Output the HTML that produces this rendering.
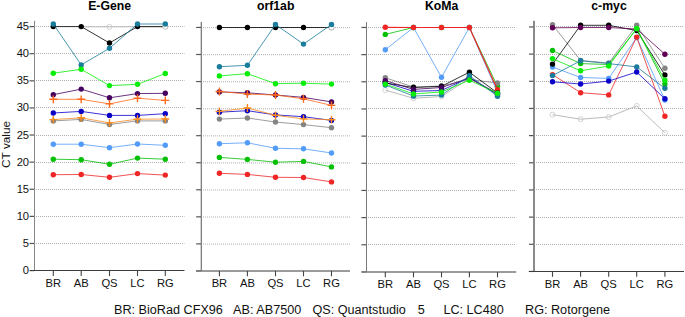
<!DOCTYPE html><html><head><meta charset="utf-8"><style>html,body{margin:0;padding:0;background:#fff;width:685px;height:317px;overflow:hidden}svg{display:block}text{font-family:"Liberation Sans",sans-serif}</style></head><body>
<svg width="685" height="317" viewBox="0 0 685 317">
<rect width="685" height="317" fill="#fff"/>
<line x1="36" y1="243.5" x2="184.5" y2="243.5" stroke="#b0b0b0" stroke-width="1" stroke-dasharray="1 1"/>
<line x1="36" y1="216.5" x2="184.5" y2="216.5" stroke="#b0b0b0" stroke-width="1" stroke-dasharray="1 1"/>
<line x1="36" y1="189.5" x2="184.5" y2="189.5" stroke="#b0b0b0" stroke-width="1" stroke-dasharray="1 1"/>
<line x1="36" y1="162.5" x2="184.5" y2="162.5" stroke="#b0b0b0" stroke-width="1" stroke-dasharray="1 1"/>
<line x1="36" y1="135.5" x2="184.5" y2="135.5" stroke="#b0b0b0" stroke-width="1" stroke-dasharray="1 1"/>
<line x1="36" y1="107.5" x2="184.5" y2="107.5" stroke="#b0b0b0" stroke-width="1" stroke-dasharray="1 1"/>
<line x1="36" y1="80.5" x2="184.5" y2="80.5" stroke="#b0b0b0" stroke-width="1" stroke-dasharray="1 1"/>
<line x1="36" y1="53.5" x2="184.5" y2="53.5" stroke="#b0b0b0" stroke-width="1" stroke-dasharray="1 1"/>
<line x1="36" y1="26.5" x2="184.5" y2="26.5" stroke="#b0b0b0" stroke-width="1" stroke-dasharray="1 1"/>
<line x1="29.5" y1="270.60" x2="34.5" y2="270.60" stroke="#555" stroke-width="1.2"/>
<line x1="29.5" y1="243.49" x2="34.5" y2="243.49" stroke="#555" stroke-width="1.2"/>
<line x1="29.5" y1="216.38" x2="34.5" y2="216.38" stroke="#555" stroke-width="1.2"/>
<line x1="29.5" y1="189.27" x2="34.5" y2="189.27" stroke="#555" stroke-width="1.2"/>
<line x1="29.5" y1="162.16" x2="34.5" y2="162.16" stroke="#555" stroke-width="1.2"/>
<line x1="29.5" y1="135.04" x2="34.5" y2="135.04" stroke="#555" stroke-width="1.2"/>
<line x1="29.5" y1="107.93" x2="34.5" y2="107.93" stroke="#555" stroke-width="1.2"/>
<line x1="29.5" y1="80.82" x2="34.5" y2="80.82" stroke="#555" stroke-width="1.2"/>
<line x1="29.5" y1="53.71" x2="34.5" y2="53.71" stroke="#555" stroke-width="1.2"/>
<line x1="29.5" y1="26.60" x2="34.5" y2="26.60" stroke="#555" stroke-width="1.2"/>
<line x1="34.5" y1="20.8" x2="34.5" y2="270.6" stroke="#858585" stroke-width="1.0"/>
<line x1="30.0" y1="270.5" x2="184.5" y2="270.5" stroke="#3c3c3c" stroke-width="1.0"/>
<line x1="53.3" y1="270.6" x2="53.3" y2="276.0" stroke="#444" stroke-width="1.1"/>
<line x1="81.2" y1="270.6" x2="81.2" y2="276.0" stroke="#444" stroke-width="1.1"/>
<line x1="109.5" y1="270.6" x2="109.5" y2="276.0" stroke="#444" stroke-width="1.1"/>
<line x1="137.5" y1="270.6" x2="137.5" y2="276.0" stroke="#444" stroke-width="1.1"/>
<line x1="165.3" y1="270.6" x2="165.3" y2="276.0" stroke="#444" stroke-width="1.1"/>
<text x="53.3" y="286.9" font-size="11.2" text-anchor="middle" fill="#111">BR</text>
<text x="81.2" y="286.9" font-size="11.2" text-anchor="middle" fill="#111">AB</text>
<text x="109.5" y="286.9" font-size="11.2" text-anchor="middle" fill="#111">QS</text>
<text x="137.5" y="286.9" font-size="11.2" text-anchor="middle" fill="#111">LC</text>
<text x="165.3" y="286.9" font-size="11.2" text-anchor="middle" fill="#111">RG</text>
<text x="109.6" y="10.2" font-size="12.25" font-weight="bold" text-anchor="middle" fill="#000">E-Gene</text>
<polyline points="81.2,26.8 109.5,26.8 137.5,26.8 165.3,26.8" fill="none" stroke="#bbb" stroke-width="1"/>
<polyline points="53.3,26.6 81.2,26.6 109.5,43.0 137.5,26.6 165.3,26.6" fill="none" stroke="#000000" stroke-width="1.0" stroke-opacity="0.8"/>
<circle cx="53.3" cy="26.6" r="2.7" fill="#000000"/>
<circle cx="81.2" cy="26.6" r="2.7" fill="#000000"/>
<circle cx="109.5" cy="43.0" r="2.7" fill="#000000"/>
<circle cx="137.5" cy="26.6" r="2.7" fill="#000000"/>
<circle cx="165.3" cy="26.6" r="2.7" fill="#000000"/>
<circle cx="109.5" cy="26.8" r="2.5" fill="none" stroke="#c8c8c8" stroke-width="0.8"/>
<circle cx="165.3" cy="26.8" r="2.5" fill="#fff" stroke="#c8c8c8" stroke-width="0.8"/>
<polyline points="53.3,24.0 81.2,64.9 109.5,48.3 137.5,24.0 165.3,24.0" fill="none" stroke="#1a7d9b" stroke-width="1.0" stroke-opacity="0.8"/>
<circle cx="53.3" cy="24.0" r="2.7" fill="#1a7d9b"/>
<circle cx="81.2" cy="64.9" r="2.7" fill="#1a7d9b"/>
<circle cx="109.5" cy="48.3" r="2.7" fill="#1a7d9b"/>
<circle cx="137.5" cy="24.0" r="2.7" fill="#1a7d9b"/>
<circle cx="165.3" cy="24.0" r="2.7" fill="#1a7d9b"/>
<polyline points="53.3,73.2 81.2,69.3 109.5,85.6 137.5,84.3 165.3,73.5" fill="none" stroke="#08ee08" stroke-width="1.0" stroke-opacity="0.8"/>
<circle cx="53.3" cy="73.2" r="2.7" fill="#08ee08"/>
<circle cx="81.2" cy="69.3" r="2.7" fill="#08ee08"/>
<circle cx="109.5" cy="85.6" r="2.7" fill="#08ee08"/>
<circle cx="137.5" cy="84.3" r="2.7" fill="#08ee08"/>
<circle cx="165.3" cy="73.5" r="2.7" fill="#08ee08"/>
<polyline points="53.3,94.7 81.2,89.1 109.5,97.8 137.5,93.6 165.3,93.3" fill="none" stroke="#46005f" stroke-width="1.0" stroke-opacity="0.8"/>
<circle cx="53.3" cy="94.7" r="2.7" fill="#46005f"/>
<circle cx="81.2" cy="89.1" r="2.7" fill="#46005f"/>
<circle cx="109.5" cy="97.8" r="2.7" fill="#46005f"/>
<circle cx="137.5" cy="93.6" r="2.7" fill="#46005f"/>
<circle cx="165.3" cy="93.3" r="2.7" fill="#46005f"/>
<polyline points="53.3,99.3 81.2,99.3 109.5,103.9 137.5,98.2 165.3,100.4" fill="none" stroke="#ff6a1a" stroke-width="1.0" stroke-opacity="0.8"/>
<path d="M49.4,99.3H57.2M53.3,95.4V103.2" stroke="#ff6a1a" stroke-width="1.4"/>
<path d="M77.3,99.3H85.1M81.2,95.4V103.2" stroke="#ff6a1a" stroke-width="1.4"/>
<path d="M105.6,103.9H113.4M109.5,100.0V107.8" stroke="#ff6a1a" stroke-width="1.4"/>
<path d="M133.6,98.2H141.4M137.5,94.3V102.1" stroke="#ff6a1a" stroke-width="1.4"/>
<path d="M161.4,100.4H169.2M165.3,96.5V104.3" stroke="#ff6a1a" stroke-width="1.4"/>
<polyline points="53.3,113.0 81.2,111.4 109.5,115.4 137.5,115.4 165.3,113.7" fill="none" stroke="#0a00c8" stroke-width="1.0" stroke-opacity="0.8"/>
<circle cx="53.3" cy="113.0" r="2.7" fill="#0a00c8"/>
<circle cx="81.2" cy="111.4" r="2.7" fill="#0a00c8"/>
<circle cx="109.5" cy="115.4" r="2.7" fill="#0a00c8"/>
<circle cx="137.5" cy="115.4" r="2.7" fill="#0a00c8"/>
<circle cx="165.3" cy="113.7" r="2.7" fill="#0a00c8"/>
<polyline points="53.3,120.9 81.2,119.4 109.5,124.5 137.5,120.9 165.3,120.9" fill="none" stroke="#848484" stroke-width="1.0" stroke-opacity="0.8"/>
<circle cx="53.3" cy="120.9" r="2.7" fill="#848484"/>
<circle cx="81.2" cy="119.4" r="2.7" fill="#848484"/>
<circle cx="109.5" cy="124.5" r="2.7" fill="#848484"/>
<circle cx="137.5" cy="120.9" r="2.7" fill="#848484"/>
<circle cx="165.3" cy="120.9" r="2.7" fill="#848484"/>
<polyline points="53.3,119.6 81.2,117.8 109.5,122.9 137.5,119.2 165.3,119.0" fill="none" stroke="#fa8c1e" stroke-width="1.0" stroke-opacity="0.8"/>
<path d="M49.4,119.6H57.2M53.3,115.7V123.5" stroke="#fa8c1e" stroke-width="1.4"/>
<path d="M77.3,117.8H85.1M81.2,113.9V121.7" stroke="#fa8c1e" stroke-width="1.4"/>
<path d="M105.6,122.9H113.4M109.5,119.0V126.8" stroke="#fa8c1e" stroke-width="1.4"/>
<path d="M133.6,119.2H141.4M137.5,115.3V123.1" stroke="#fa8c1e" stroke-width="1.4"/>
<path d="M161.4,119.0H169.2M165.3,115.1V122.9" stroke="#fa8c1e" stroke-width="1.4"/>
<polyline points="53.3,144.2 81.2,144.2 109.5,147.7 137.5,144.0 165.3,145.3" fill="none" stroke="#529cf8" stroke-width="1.0" stroke-opacity="0.8"/>
<circle cx="53.3" cy="144.2" r="2.7" fill="#529cf8"/>
<circle cx="81.2" cy="144.2" r="2.7" fill="#529cf8"/>
<circle cx="109.5" cy="147.7" r="2.7" fill="#529cf8"/>
<circle cx="137.5" cy="144.0" r="2.7" fill="#529cf8"/>
<circle cx="165.3" cy="145.3" r="2.7" fill="#529cf8"/>
<polyline points="53.3,159.2 81.2,159.7 109.5,164.3 137.5,158.1 165.3,159.2" fill="none" stroke="#06c006" stroke-width="1.0" stroke-opacity="0.8"/>
<circle cx="53.3" cy="159.2" r="2.7" fill="#06c006"/>
<circle cx="81.2" cy="159.7" r="2.7" fill="#06c006"/>
<circle cx="109.5" cy="164.3" r="2.7" fill="#06c006"/>
<circle cx="137.5" cy="158.1" r="2.7" fill="#06c006"/>
<circle cx="165.3" cy="159.2" r="2.7" fill="#06c006"/>
<polyline points="53.3,174.7 81.2,174.5 109.5,177.3 137.5,173.6 165.3,175.1" fill="none" stroke="#f02626" stroke-width="1.0" stroke-opacity="0.8"/>
<circle cx="53.3" cy="174.7" r="2.7" fill="#f02626"/>
<circle cx="81.2" cy="174.5" r="2.7" fill="#f02626"/>
<circle cx="109.5" cy="177.3" r="2.7" fill="#f02626"/>
<circle cx="137.5" cy="173.6" r="2.7" fill="#f02626"/>
<circle cx="165.3" cy="175.1" r="2.7" fill="#f02626"/>
<line x1="203" y1="244.09" x2="350.0" y2="244.09" stroke="#b0b0b0" stroke-width="1" stroke-dasharray="1 1"/>
<line x1="203" y1="217.03" x2="350.0" y2="217.03" stroke="#b0b0b0" stroke-width="1" stroke-dasharray="1 1"/>
<line x1="203" y1="189.98" x2="350.0" y2="189.98" stroke="#b0b0b0" stroke-width="1" stroke-dasharray="1 1"/>
<line x1="203" y1="162.92" x2="350.0" y2="162.92" stroke="#b0b0b0" stroke-width="1" stroke-dasharray="1 1"/>
<line x1="203" y1="135.87" x2="350.0" y2="135.87" stroke="#b0b0b0" stroke-width="1" stroke-dasharray="1 1"/>
<line x1="203" y1="108.81" x2="350.0" y2="108.81" stroke="#b0b0b0" stroke-width="1" stroke-dasharray="1 1"/>
<line x1="203" y1="81.76" x2="350.0" y2="81.76" stroke="#b0b0b0" stroke-width="1" stroke-dasharray="1 1"/>
<line x1="203" y1="54.7" x2="350.0" y2="54.7" stroke="#b0b0b0" stroke-width="1" stroke-dasharray="1 1"/>
<line x1="203" y1="27.65" x2="350.0" y2="27.65" stroke="#b0b0b0" stroke-width="1" stroke-dasharray="1 1"/>
<line x1="196.2" y1="270.94" x2="201.2" y2="270.94" stroke="#555" stroke-width="1.2"/>
<line x1="196.2" y1="243.89" x2="201.2" y2="243.89" stroke="#555" stroke-width="1.2"/>
<line x1="196.2" y1="216.83" x2="201.2" y2="216.83" stroke="#555" stroke-width="1.2"/>
<line x1="196.2" y1="189.78" x2="201.2" y2="189.78" stroke="#555" stroke-width="1.2"/>
<line x1="196.2" y1="162.72" x2="201.2" y2="162.72" stroke="#555" stroke-width="1.2"/>
<line x1="196.2" y1="135.67" x2="201.2" y2="135.67" stroke="#555" stroke-width="1.2"/>
<line x1="196.2" y1="108.61" x2="201.2" y2="108.61" stroke="#555" stroke-width="1.2"/>
<line x1="196.2" y1="81.56" x2="201.2" y2="81.56" stroke="#555" stroke-width="1.2"/>
<line x1="196.2" y1="54.50" x2="201.2" y2="54.50" stroke="#555" stroke-width="1.2"/>
<line x1="196.2" y1="27.45" x2="201.2" y2="27.45" stroke="#555" stroke-width="1.2"/>
<line x1="201.3" y1="22.1" x2="201.3" y2="270.9" stroke="#707070" stroke-width="1.2"/>
<line x1="196.0" y1="271.0" x2="350.0" y2="271.0" stroke="#7a7a7a" stroke-width="1.6"/>
<line x1="219.4" y1="270.9" x2="219.4" y2="276.3" stroke="#444" stroke-width="1.1"/>
<line x1="247.4" y1="270.9" x2="247.4" y2="276.3" stroke="#444" stroke-width="1.1"/>
<line x1="275.5" y1="270.9" x2="275.5" y2="276.3" stroke="#444" stroke-width="1.1"/>
<line x1="303.5" y1="270.9" x2="303.5" y2="276.3" stroke="#444" stroke-width="1.1"/>
<line x1="331.5" y1="270.9" x2="331.5" y2="276.3" stroke="#444" stroke-width="1.1"/>
<text x="219.4" y="287.2" font-size="11.2" text-anchor="middle" fill="#111">BR</text>
<text x="247.4" y="287.2" font-size="11.2" text-anchor="middle" fill="#111">AB</text>
<text x="275.5" y="287.2" font-size="11.2" text-anchor="middle" fill="#111">QS</text>
<text x="303.5" y="287.2" font-size="11.2" text-anchor="middle" fill="#111">LC</text>
<text x="331.5" y="287.2" font-size="11.2" text-anchor="middle" fill="#111">RG</text>
<text x="275.7" y="10.2" font-size="12.25" font-weight="bold" text-anchor="middle" fill="#000">orf1ab</text>
<polyline points="219.4,27.5 247.4,27.5 275.5,27.5 303.5,27.5 331.5,27.5" fill="none" stroke="#000000" stroke-width="1.0" stroke-opacity="0.8"/>
<circle cx="219.4" cy="27.5" r="2.7" fill="#000000"/>
<circle cx="247.4" cy="27.5" r="2.7" fill="#000000"/>
<circle cx="275.5" cy="27.5" r="2.7" fill="#000000"/>
<circle cx="303.5" cy="27.5" r="2.7" fill="#000000"/>
<circle cx="331.5" cy="27.5" r="2.7" fill="#000000"/>
<circle cx="331.5" cy="27.4" r="2.5" fill="#fff" stroke="#c8c8c8" stroke-width="0.8"/>
<polyline points="219.4,66.7 247.4,65.3 275.5,24.5 303.5,44.1 331.5,24.5" fill="none" stroke="#1a7d9b" stroke-width="1.0" stroke-opacity="0.8"/>
<circle cx="219.4" cy="66.7" r="2.7" fill="#1a7d9b"/>
<circle cx="247.4" cy="65.3" r="2.7" fill="#1a7d9b"/>
<circle cx="275.5" cy="24.5" r="2.7" fill="#1a7d9b"/>
<circle cx="303.5" cy="44.1" r="2.7" fill="#1a7d9b"/>
<circle cx="331.5" cy="24.5" r="2.7" fill="#1a7d9b"/>
<polyline points="219.4,75.9 247.4,73.7 275.5,83.7 303.5,83.2 331.5,84.1" fill="none" stroke="#08ee08" stroke-width="1.0" stroke-opacity="0.8"/>
<circle cx="219.4" cy="75.9" r="2.7" fill="#08ee08"/>
<circle cx="247.4" cy="73.7" r="2.7" fill="#08ee08"/>
<circle cx="275.5" cy="83.7" r="2.7" fill="#08ee08"/>
<circle cx="303.5" cy="83.2" r="2.7" fill="#08ee08"/>
<circle cx="331.5" cy="84.1" r="2.7" fill="#08ee08"/>
<polyline points="219.4,91.9 247.4,92.8 275.5,95.0 303.5,97.4 331.5,101.9" fill="none" stroke="#46005f" stroke-width="1.0" stroke-opacity="0.8"/>
<circle cx="219.4" cy="91.9" r="2.7" fill="#46005f"/>
<circle cx="247.4" cy="92.8" r="2.7" fill="#46005f"/>
<circle cx="275.5" cy="95.0" r="2.7" fill="#46005f"/>
<circle cx="303.5" cy="97.4" r="2.7" fill="#46005f"/>
<circle cx="331.5" cy="101.9" r="2.7" fill="#46005f"/>
<polyline points="219.4,91.5 247.4,94.1 275.5,95.0 303.5,98.8 331.5,105.4" fill="none" stroke="#ff6a1a" stroke-width="1.0" stroke-opacity="0.8"/>
<path d="M215.5,91.5H223.3M219.4,87.6V95.4" stroke="#ff6a1a" stroke-width="1.4"/>
<path d="M243.5,94.1H251.3M247.4,90.2V98.0" stroke="#ff6a1a" stroke-width="1.4"/>
<path d="M271.6,95.0H279.4M275.5,91.1V98.9" stroke="#ff6a1a" stroke-width="1.4"/>
<path d="M299.6,98.8H307.4M303.5,94.9V102.7" stroke="#ff6a1a" stroke-width="1.4"/>
<path d="M327.6,105.4H335.4M331.5,101.5V109.3" stroke="#ff6a1a" stroke-width="1.4"/>
<polyline points="219.4,119.1 247.4,118.0 275.5,122.0 303.5,124.6 331.5,127.7" fill="none" stroke="#848484" stroke-width="1.0" stroke-opacity="0.8"/>
<circle cx="219.4" cy="119.1" r="2.7" fill="#848484"/>
<circle cx="247.4" cy="118.0" r="2.7" fill="#848484"/>
<circle cx="275.5" cy="122.0" r="2.7" fill="#848484"/>
<circle cx="303.5" cy="124.6" r="2.7" fill="#848484"/>
<circle cx="331.5" cy="127.7" r="2.7" fill="#848484"/>
<polyline points="219.4,112.2 247.4,110.7 275.5,114.9 303.5,116.7 331.5,120.4" fill="none" stroke="#0a00c8" stroke-width="1.0" stroke-opacity="0.8"/>
<circle cx="219.4" cy="112.2" r="2.7" fill="#0a00c8"/>
<circle cx="247.4" cy="110.7" r="2.7" fill="#0a00c8"/>
<circle cx="275.5" cy="114.9" r="2.7" fill="#0a00c8"/>
<circle cx="303.5" cy="116.7" r="2.7" fill="#0a00c8"/>
<circle cx="331.5" cy="120.4" r="2.7" fill="#0a00c8"/>
<polyline points="219.4,111.4 247.4,108.0 275.5,115.3 303.5,118.9 331.5,119.7" fill="none" stroke="#fa8c1e" stroke-width="1.0" stroke-opacity="0.8"/>
<path d="M215.5,111.4H223.3M219.4,107.5V115.3" stroke="#fa8c1e" stroke-width="1.4"/>
<path d="M243.5,108.0H251.3M247.4,104.1V111.9" stroke="#fa8c1e" stroke-width="1.4"/>
<path d="M271.6,115.3H279.4M275.5,111.4V119.2" stroke="#fa8c1e" stroke-width="1.4"/>
<path d="M299.6,118.9H307.4M303.5,115.0V122.8" stroke="#fa8c1e" stroke-width="1.4"/>
<path d="M327.6,119.7H335.4M331.5,115.8V123.6" stroke="#fa8c1e" stroke-width="1.4"/>
<polyline points="219.4,143.7 247.4,142.8 275.5,148.3 303.5,148.8 331.5,153.0" fill="none" stroke="#529cf8" stroke-width="1.0" stroke-opacity="0.8"/>
<circle cx="219.4" cy="143.7" r="2.7" fill="#529cf8"/>
<circle cx="247.4" cy="142.8" r="2.7" fill="#529cf8"/>
<circle cx="275.5" cy="148.3" r="2.7" fill="#529cf8"/>
<circle cx="303.5" cy="148.8" r="2.7" fill="#529cf8"/>
<circle cx="331.5" cy="153.0" r="2.7" fill="#529cf8"/>
<polyline points="219.4,157.4 247.4,159.4 275.5,162.2 303.5,161.4 331.5,166.9" fill="none" stroke="#06c006" stroke-width="1.0" stroke-opacity="0.8"/>
<circle cx="219.4" cy="157.4" r="2.7" fill="#06c006"/>
<circle cx="247.4" cy="159.4" r="2.7" fill="#06c006"/>
<circle cx="275.5" cy="162.2" r="2.7" fill="#06c006"/>
<circle cx="303.5" cy="161.4" r="2.7" fill="#06c006"/>
<circle cx="331.5" cy="166.9" r="2.7" fill="#06c006"/>
<polyline points="219.4,173.3 247.4,174.4 275.5,177.3 303.5,177.5 331.5,181.9" fill="none" stroke="#f02626" stroke-width="1.0" stroke-opacity="0.8"/>
<circle cx="219.4" cy="173.3" r="2.7" fill="#f02626"/>
<circle cx="247.4" cy="174.4" r="2.7" fill="#f02626"/>
<circle cx="275.5" cy="177.3" r="2.7" fill="#f02626"/>
<circle cx="303.5" cy="177.5" r="2.7" fill="#f02626"/>
<circle cx="331.5" cy="181.9" r="2.7" fill="#f02626"/>
<line x1="368" y1="244.5" x2="516.2" y2="244.5" stroke="#b0b0b0" stroke-width="1" stroke-dasharray="1 1"/>
<line x1="368" y1="217.5" x2="516.2" y2="217.5" stroke="#b0b0b0" stroke-width="1" stroke-dasharray="1 1"/>
<line x1="368" y1="190.5" x2="516.2" y2="190.5" stroke="#b0b0b0" stroke-width="1" stroke-dasharray="1 1"/>
<line x1="368" y1="163.5" x2="516.2" y2="163.5" stroke="#b0b0b0" stroke-width="1" stroke-dasharray="1 1"/>
<line x1="368" y1="136.5" x2="516.2" y2="136.5" stroke="#b0b0b0" stroke-width="1" stroke-dasharray="1 1"/>
<line x1="368" y1="108.5" x2="516.2" y2="108.5" stroke="#b0b0b0" stroke-width="1" stroke-dasharray="1 1"/>
<line x1="368" y1="81.5" x2="516.2" y2="81.5" stroke="#b0b0b0" stroke-width="1" stroke-dasharray="1 1"/>
<line x1="368" y1="54.5" x2="516.2" y2="54.5" stroke="#b0b0b0" stroke-width="1" stroke-dasharray="1 1"/>
<line x1="368" y1="27.5" x2="516.2" y2="27.5" stroke="#b0b0b0" stroke-width="1" stroke-dasharray="1 1"/>
<line x1="361.4" y1="271.95" x2="366.4" y2="271.95" stroke="#555" stroke-width="1.2"/>
<line x1="361.4" y1="244.78" x2="366.4" y2="244.78" stroke="#555" stroke-width="1.2"/>
<line x1="361.4" y1="217.62" x2="366.4" y2="217.62" stroke="#555" stroke-width="1.2"/>
<line x1="361.4" y1="190.45" x2="366.4" y2="190.45" stroke="#555" stroke-width="1.2"/>
<line x1="361.4" y1="163.28" x2="366.4" y2="163.28" stroke="#555" stroke-width="1.2"/>
<line x1="361.4" y1="136.12" x2="366.4" y2="136.12" stroke="#555" stroke-width="1.2"/>
<line x1="361.4" y1="108.95" x2="366.4" y2="108.95" stroke="#555" stroke-width="1.2"/>
<line x1="361.4" y1="81.78" x2="366.4" y2="81.78" stroke="#555" stroke-width="1.2"/>
<line x1="361.4" y1="54.62" x2="366.4" y2="54.62" stroke="#555" stroke-width="1.2"/>
<line x1="361.4" y1="27.45" x2="366.4" y2="27.45" stroke="#555" stroke-width="1.2"/>
<line x1="366.5" y1="22.1" x2="366.5" y2="271.9" stroke="#7a7a7a" stroke-width="1.0"/>
<line x1="361.8" y1="272.0" x2="516.2" y2="272.0" stroke="#7a7a7a" stroke-width="1.6"/>
<line x1="385.3" y1="271.9" x2="385.3" y2="277.3" stroke="#444" stroke-width="1.1"/>
<line x1="413.5" y1="271.9" x2="413.5" y2="277.3" stroke="#444" stroke-width="1.1"/>
<line x1="441.5" y1="271.9" x2="441.5" y2="277.3" stroke="#444" stroke-width="1.1"/>
<line x1="469.4" y1="271.9" x2="469.4" y2="277.3" stroke="#444" stroke-width="1.1"/>
<line x1="497.5" y1="271.9" x2="497.5" y2="277.3" stroke="#444" stroke-width="1.1"/>
<text x="385.3" y="288.2" font-size="11.2" text-anchor="middle" fill="#111">BR</text>
<text x="413.5" y="288.2" font-size="11.2" text-anchor="middle" fill="#111">AB</text>
<text x="441.5" y="288.2" font-size="11.2" text-anchor="middle" fill="#111">QS</text>
<text x="469.4" y="288.2" font-size="11.2" text-anchor="middle" fill="#111">LC</text>
<text x="497.5" y="288.2" font-size="11.2" text-anchor="middle" fill="#111">RG</text>
<text x="441.7" y="10.2" font-size="12.25" font-weight="bold" text-anchor="middle" fill="#000">KoMa</text>
<polyline points="385.3,90.1 413.5,98.3 441.5,96.5 469.4,78.5 497.5,94.5" fill="none" stroke="#aaa" stroke-width="0.8"/>
<circle cx="385.3" cy="90.1" r="2.5" fill="none" stroke="#c8c8c8" stroke-width="0.8"/>
<circle cx="413.5" cy="98.3" r="2.5" fill="none" stroke="#c8c8c8" stroke-width="0.8"/>
<circle cx="441.5" cy="96.5" r="2.5" fill="none" stroke="#c8c8c8" stroke-width="0.8"/>
<circle cx="469.4" cy="78.5" r="2.5" fill="none" stroke="#c8c8c8" stroke-width="0.8"/>
<circle cx="497.5" cy="94.5" r="2.5" fill="none" stroke="#c8c8c8" stroke-width="0.8"/>
<polyline points="385.3,34.4 413.5,27.5 441.5,27.5 469.4,27.5 497.5,86.3" fill="none" stroke="#06c006" stroke-width="1.0" stroke-opacity="0.8"/>
<circle cx="385.3" cy="34.4" r="2.7" fill="#06c006"/>
<circle cx="413.5" cy="27.5" r="2.7" fill="#06c006"/>
<circle cx="441.5" cy="27.5" r="2.7" fill="#06c006"/>
<circle cx="469.4" cy="27.5" r="2.7" fill="#06c006"/>
<circle cx="497.5" cy="86.3" r="2.7" fill="#06c006"/>
<polyline points="385.3,77.8 413.5,87.0 441.5,86.0 469.4,79.5 497.5,83.0" fill="none" stroke="#848484" stroke-width="1.0" stroke-opacity="0.8"/>
<circle cx="385.3" cy="77.8" r="2.7" fill="#848484"/>
<circle cx="413.5" cy="87.0" r="2.7" fill="#848484"/>
<circle cx="441.5" cy="86.0" r="2.7" fill="#848484"/>
<circle cx="469.4" cy="79.5" r="2.7" fill="#848484"/>
<circle cx="497.5" cy="83.0" r="2.7" fill="#848484"/>
<polyline points="385.3,49.7 413.5,27.5 441.5,77.3 469.4,27.5 497.5,92.5" fill="none" stroke="#529cf8" stroke-width="1.0" stroke-opacity="0.8"/>
<circle cx="385.3" cy="49.7" r="2.7" fill="#529cf8"/>
<circle cx="413.5" cy="27.5" r="2.7" fill="#529cf8"/>
<circle cx="441.5" cy="77.3" r="2.7" fill="#529cf8"/>
<circle cx="469.4" cy="27.5" r="2.7" fill="#529cf8"/>
<circle cx="497.5" cy="92.5" r="2.7" fill="#529cf8"/>
<polyline points="385.3,27.3 413.5,27.5 441.5,27.5 469.4,27.5 497.5,89.8" fill="none" stroke="#f02626" stroke-width="1.2" stroke-opacity="1"/>
<circle cx="385.3" cy="27.3" r="2.7" fill="#f02626"/>
<circle cx="413.5" cy="27.5" r="2.7" fill="#f02626"/>
<circle cx="441.5" cy="27.5" r="2.7" fill="#f02626"/>
<circle cx="469.4" cy="27.5" r="2.7" fill="#f02626"/>
<circle cx="497.5" cy="89.8" r="2.7" fill="#f02626"/>
<polyline points="385.3,82.5 413.5,91.3 441.5,90.5 469.4,77.5 497.5,94.5" fill="none" stroke="#0a00c8" stroke-width="1.0" stroke-opacity="0.8"/>
<circle cx="385.3" cy="82.5" r="2.7" fill="#0a00c8"/>
<circle cx="413.5" cy="91.3" r="2.7" fill="#0a00c8"/>
<circle cx="441.5" cy="90.5" r="2.7" fill="#0a00c8"/>
<circle cx="469.4" cy="77.5" r="2.7" fill="#0a00c8"/>
<circle cx="497.5" cy="94.5" r="2.7" fill="#0a00c8"/>
<polyline points="385.3,83.0 413.5,87.5 441.5,86.3 469.4,72.2 497.5,93.0" fill="none" stroke="#000000" stroke-width="1.0" stroke-opacity="0.8"/>
<circle cx="385.3" cy="83.0" r="2.7" fill="#000000"/>
<circle cx="413.5" cy="87.5" r="2.7" fill="#000000"/>
<circle cx="441.5" cy="86.3" r="2.7" fill="#000000"/>
<circle cx="469.4" cy="72.2" r="2.7" fill="#000000"/>
<circle cx="497.5" cy="93.0" r="2.7" fill="#000000"/>
<polyline points="385.3,80.6 413.5,89.4 441.5,87.5 469.4,78.0 497.5,93.5" fill="none" stroke="#46005f" stroke-width="1.0" stroke-opacity="0.8"/>
<circle cx="385.3" cy="80.6" r="2.7" fill="#46005f"/>
<circle cx="413.5" cy="89.4" r="2.7" fill="#46005f"/>
<circle cx="441.5" cy="87.5" r="2.7" fill="#46005f"/>
<circle cx="469.4" cy="78.0" r="2.7" fill="#46005f"/>
<circle cx="497.5" cy="93.5" r="2.7" fill="#46005f"/>
<polyline points="385.3,85.0 413.5,96.0 441.5,95.1 469.4,75.8 497.5,96.2" fill="none" stroke="#1a7d9b" stroke-width="1.0" stroke-opacity="0.8"/>
<circle cx="385.3" cy="85.0" r="2.7" fill="#1a7d9b"/>
<circle cx="413.5" cy="96.0" r="2.7" fill="#1a7d9b"/>
<circle cx="441.5" cy="95.1" r="2.7" fill="#1a7d9b"/>
<circle cx="469.4" cy="75.8" r="2.7" fill="#1a7d9b"/>
<circle cx="497.5" cy="96.2" r="2.7" fill="#1a7d9b"/>
<polyline points="385.3,84.1 413.5,93.9 441.5,92.0 469.4,80.2 497.5,93.2" fill="none" stroke="#08ee08" stroke-width="1.0" stroke-opacity="0.8"/>
<circle cx="385.3" cy="84.1" r="2.7" fill="#08ee08"/>
<circle cx="413.5" cy="93.9" r="2.7" fill="#08ee08"/>
<circle cx="441.5" cy="92.0" r="2.7" fill="#08ee08"/>
<circle cx="469.4" cy="80.2" r="2.7" fill="#08ee08"/>
<circle cx="497.5" cy="93.2" r="2.7" fill="#08ee08"/>
<line x1="536" y1="244.5" x2="684.0" y2="244.5" stroke="#b0b0b0" stroke-width="1" stroke-dasharray="1 1"/>
<line x1="536" y1="217.5" x2="684.0" y2="217.5" stroke="#b0b0b0" stroke-width="1" stroke-dasharray="1 1"/>
<line x1="536" y1="189.5" x2="684.0" y2="189.5" stroke="#b0b0b0" stroke-width="1" stroke-dasharray="1 1"/>
<line x1="536" y1="162.5" x2="684.0" y2="162.5" stroke="#b0b0b0" stroke-width="1" stroke-dasharray="1 1"/>
<line x1="536" y1="135.5" x2="684.0" y2="135.5" stroke="#b0b0b0" stroke-width="1" stroke-dasharray="1 1"/>
<line x1="536" y1="108.5" x2="684.0" y2="108.5" stroke="#b0b0b0" stroke-width="1" stroke-dasharray="1 1"/>
<line x1="536" y1="81.5" x2="684.0" y2="81.5" stroke="#b0b0b0" stroke-width="1" stroke-dasharray="1 1"/>
<line x1="536" y1="54.5" x2="684.0" y2="54.5" stroke="#b0b0b0" stroke-width="1" stroke-dasharray="1 1"/>
<line x1="536" y1="26.5" x2="684.0" y2="26.5" stroke="#b0b0b0" stroke-width="1" stroke-dasharray="1 1"/>
<line x1="529.0" y1="271.45" x2="534.0" y2="271.45" stroke="#555" stroke-width="1.2"/>
<line x1="529.0" y1="244.28" x2="534.0" y2="244.28" stroke="#555" stroke-width="1.2"/>
<line x1="529.0" y1="217.12" x2="534.0" y2="217.12" stroke="#555" stroke-width="1.2"/>
<line x1="529.0" y1="189.95" x2="534.0" y2="189.95" stroke="#555" stroke-width="1.2"/>
<line x1="529.0" y1="162.78" x2="534.0" y2="162.78" stroke="#555" stroke-width="1.2"/>
<line x1="529.0" y1="135.62" x2="534.0" y2="135.62" stroke="#555" stroke-width="1.2"/>
<line x1="529.0" y1="108.45" x2="534.0" y2="108.45" stroke="#555" stroke-width="1.2"/>
<line x1="529.0" y1="81.28" x2="534.0" y2="81.28" stroke="#555" stroke-width="1.2"/>
<line x1="529.0" y1="54.12" x2="534.0" y2="54.12" stroke="#555" stroke-width="1.2"/>
<line x1="529.0" y1="26.95" x2="534.0" y2="26.95" stroke="#555" stroke-width="1.2"/>
<line x1="534.0" y1="20.8" x2="534.0" y2="271.4" stroke="#6e6e6e" stroke-width="1.6"/>
<line x1="528.8" y1="271.5" x2="684.0" y2="271.5" stroke="#3c3c3c" stroke-width="1.0"/>
<line x1="552.5" y1="271.4" x2="552.5" y2="276.8" stroke="#444" stroke-width="1.1"/>
<line x1="580.6" y1="271.4" x2="580.6" y2="276.8" stroke="#444" stroke-width="1.1"/>
<line x1="608.7" y1="271.4" x2="608.7" y2="276.8" stroke="#444" stroke-width="1.1"/>
<line x1="636.7" y1="271.4" x2="636.7" y2="276.8" stroke="#444" stroke-width="1.1"/>
<line x1="664.9" y1="271.4" x2="664.9" y2="276.8" stroke="#444" stroke-width="1.1"/>
<text x="552.5" y="287.8" font-size="11.2" text-anchor="middle" fill="#111">BR</text>
<text x="580.6" y="287.8" font-size="11.2" text-anchor="middle" fill="#111">AB</text>
<text x="608.7" y="287.8" font-size="11.2" text-anchor="middle" fill="#111">QS</text>
<text x="636.7" y="287.8" font-size="11.2" text-anchor="middle" fill="#111">LC</text>
<text x="664.9" y="287.8" font-size="11.2" text-anchor="middle" fill="#111">RG</text>
<text x="609.0" y="10.2" font-size="12.25" font-weight="bold" text-anchor="middle" fill="#000">c-myc</text>
<polyline points="552.5,114.7 580.6,119.2 608.7,117.0 636.7,105.9 664.9,132.8" fill="none" stroke="#aaa" stroke-width="0.8"/>
<circle cx="552.5" cy="114.7" r="2.5" fill="none" stroke="#c8c8c8" stroke-width="0.8"/>
<circle cx="580.6" cy="119.2" r="2.5" fill="none" stroke="#c8c8c8" stroke-width="0.8"/>
<circle cx="608.7" cy="117.0" r="2.5" fill="none" stroke="#c8c8c8" stroke-width="0.8"/>
<circle cx="636.7" cy="105.9" r="2.5" fill="none" stroke="#c8c8c8" stroke-width="0.8"/>
<circle cx="664.9" cy="132.8" r="2.5" fill="none" stroke="#c8c8c8" stroke-width="0.8"/>
<polyline points="552.5,24.6 580.6,60.5 608.7,63.0 636.7,25.3 664.9,68.3" fill="none" stroke="#848484" stroke-width="1.0" stroke-opacity="0.8"/>
<circle cx="552.5" cy="24.6" r="2.7" fill="#848484"/>
<circle cx="580.6" cy="60.5" r="2.7" fill="#848484"/>
<circle cx="608.7" cy="63.0" r="2.7" fill="#848484"/>
<circle cx="636.7" cy="25.3" r="2.7" fill="#848484"/>
<circle cx="664.9" cy="68.3" r="2.7" fill="#848484"/>
<polyline points="552.5,67.0 580.6,77.5 608.7,78.4 636.7,37.5 664.9,100.0" fill="none" stroke="#529cf8" stroke-width="1.0" stroke-opacity="0.8"/>
<circle cx="552.5" cy="67.0" r="2.7" fill="#529cf8"/>
<circle cx="580.6" cy="77.5" r="2.7" fill="#529cf8"/>
<circle cx="608.7" cy="78.4" r="2.7" fill="#529cf8"/>
<circle cx="636.7" cy="37.5" r="2.7" fill="#529cf8"/>
<circle cx="664.9" cy="100.0" r="2.7" fill="#529cf8"/>
<polyline points="552.5,64.1 580.6,25.3 608.7,25.3 636.7,30.6 664.9,74.9" fill="none" stroke="#000000" stroke-width="1.0" stroke-opacity="0.8"/>
<circle cx="552.5" cy="64.1" r="2.7" fill="#000000"/>
<circle cx="580.6" cy="25.3" r="2.7" fill="#000000"/>
<circle cx="608.7" cy="25.3" r="2.7" fill="#000000"/>
<circle cx="636.7" cy="30.6" r="2.7" fill="#000000"/>
<circle cx="664.9" cy="74.9" r="2.7" fill="#000000"/>
<polyline points="552.5,27.8 580.6,27.5 608.7,27.5 636.7,29.0 664.9,54.2" fill="none" stroke="#5f0055" stroke-width="1.0" stroke-opacity="0.8"/>
<circle cx="552.5" cy="27.8" r="2.7" fill="#5f0055"/>
<circle cx="580.6" cy="27.5" r="2.7" fill="#5f0055"/>
<circle cx="608.7" cy="27.5" r="2.7" fill="#5f0055"/>
<circle cx="636.7" cy="29.0" r="2.7" fill="#5f0055"/>
<circle cx="664.9" cy="54.2" r="2.7" fill="#5f0055"/>
<polyline points="552.5,50.5 580.6,63.6 608.7,64.5 636.7,28.6 664.9,84.0" fill="none" stroke="#06c006" stroke-width="1.0" stroke-opacity="0.8"/>
<circle cx="552.5" cy="50.5" r="2.7" fill="#06c006"/>
<circle cx="580.6" cy="63.6" r="2.7" fill="#06c006"/>
<circle cx="608.7" cy="64.5" r="2.7" fill="#06c006"/>
<circle cx="636.7" cy="28.6" r="2.7" fill="#06c006"/>
<circle cx="664.9" cy="84.0" r="2.7" fill="#06c006"/>
<polyline points="552.5,74.6 580.6,92.7 608.7,94.9 636.7,37.1 664.9,116.3" fill="none" stroke="#f02626" stroke-width="1.0" stroke-opacity="0.8"/>
<circle cx="552.5" cy="74.6" r="2.7" fill="#f02626"/>
<circle cx="580.6" cy="92.7" r="2.7" fill="#f02626"/>
<circle cx="608.7" cy="94.9" r="2.7" fill="#f02626"/>
<circle cx="636.7" cy="37.1" r="2.7" fill="#f02626"/>
<circle cx="664.9" cy="116.3" r="2.7" fill="#f02626"/>
<polyline points="552.5,75.6 580.6,60.7 608.7,63.6 636.7,66.9 664.9,88.2" fill="none" stroke="#1a7d9b" stroke-width="1.0" stroke-opacity="0.8"/>
<circle cx="552.5" cy="75.6" r="2.7" fill="#1a7d9b"/>
<circle cx="580.6" cy="60.7" r="2.7" fill="#1a7d9b"/>
<circle cx="608.7" cy="63.6" r="2.7" fill="#1a7d9b"/>
<circle cx="636.7" cy="66.9" r="2.7" fill="#1a7d9b"/>
<circle cx="664.9" cy="88.2" r="2.7" fill="#1a7d9b"/>
<polyline points="552.5,81.8 580.6,84.0 608.7,81.1 636.7,72.0 664.9,98.8" fill="none" stroke="#0a00c8" stroke-width="1.0" stroke-opacity="0.8"/>
<circle cx="552.5" cy="81.8" r="2.7" fill="#0a00c8"/>
<circle cx="580.6" cy="84.0" r="2.7" fill="#0a00c8"/>
<circle cx="608.7" cy="81.1" r="2.7" fill="#0a00c8"/>
<circle cx="636.7" cy="72.0" r="2.7" fill="#0a00c8"/>
<circle cx="664.9" cy="98.8" r="2.7" fill="#0a00c8"/>
<polyline points="552.5,58.6 580.6,70.8 608.7,66.0 636.7,28.5 664.9,80.3" fill="none" stroke="#08ee08" stroke-width="1.0" stroke-opacity="0.8"/>
<circle cx="552.5" cy="58.6" r="2.7" fill="#08ee08"/>
<circle cx="580.6" cy="70.8" r="2.7" fill="#08ee08"/>
<circle cx="608.7" cy="66.0" r="2.7" fill="#08ee08"/>
<circle cx="636.7" cy="28.5" r="2.7" fill="#08ee08"/>
<circle cx="664.9" cy="80.3" r="2.7" fill="#08ee08"/>
<text x="29.1" y="274.1" font-size="11.2" text-anchor="end" fill="#111">0</text>
<text x="29.1" y="247.0" font-size="11.2" text-anchor="end" fill="#111">5</text>
<text x="29.1" y="219.9" font-size="11.2" text-anchor="end" fill="#111">10</text>
<text x="29.1" y="192.8" font-size="11.2" text-anchor="end" fill="#111">15</text>
<text x="29.1" y="165.7" font-size="11.2" text-anchor="end" fill="#111">20</text>
<text x="29.1" y="138.5" font-size="11.2" text-anchor="end" fill="#111">25</text>
<text x="29.1" y="111.4" font-size="11.2" text-anchor="end" fill="#111">30</text>
<text x="29.1" y="84.3" font-size="11.2" text-anchor="end" fill="#111">35</text>
<text x="29.1" y="57.2" font-size="11.2" text-anchor="end" fill="#111">40</text>
<text x="29.1" y="30.1" font-size="11.2" text-anchor="end" fill="#111">45</text>
<text transform="translate(10.0,144.4) rotate(-90)" font-size="11.8" text-anchor="middle" fill="#111">CT value</text>
<text y="313.5" font-size="12.65" fill="#111" xml:space="preserve"><tspan x="114.0">BR: BioRad CFX96</tspan><tspan x="233.1">AB: AB7500</tspan><tspan x="312.4">QS: Quantstudio</tspan><tspan x="417.8">5</tspan><tspan x="443.4">LC: LC480</tspan><tspan x="525.0">RG: Rotorgene</tspan></text>
</svg></body></html>
